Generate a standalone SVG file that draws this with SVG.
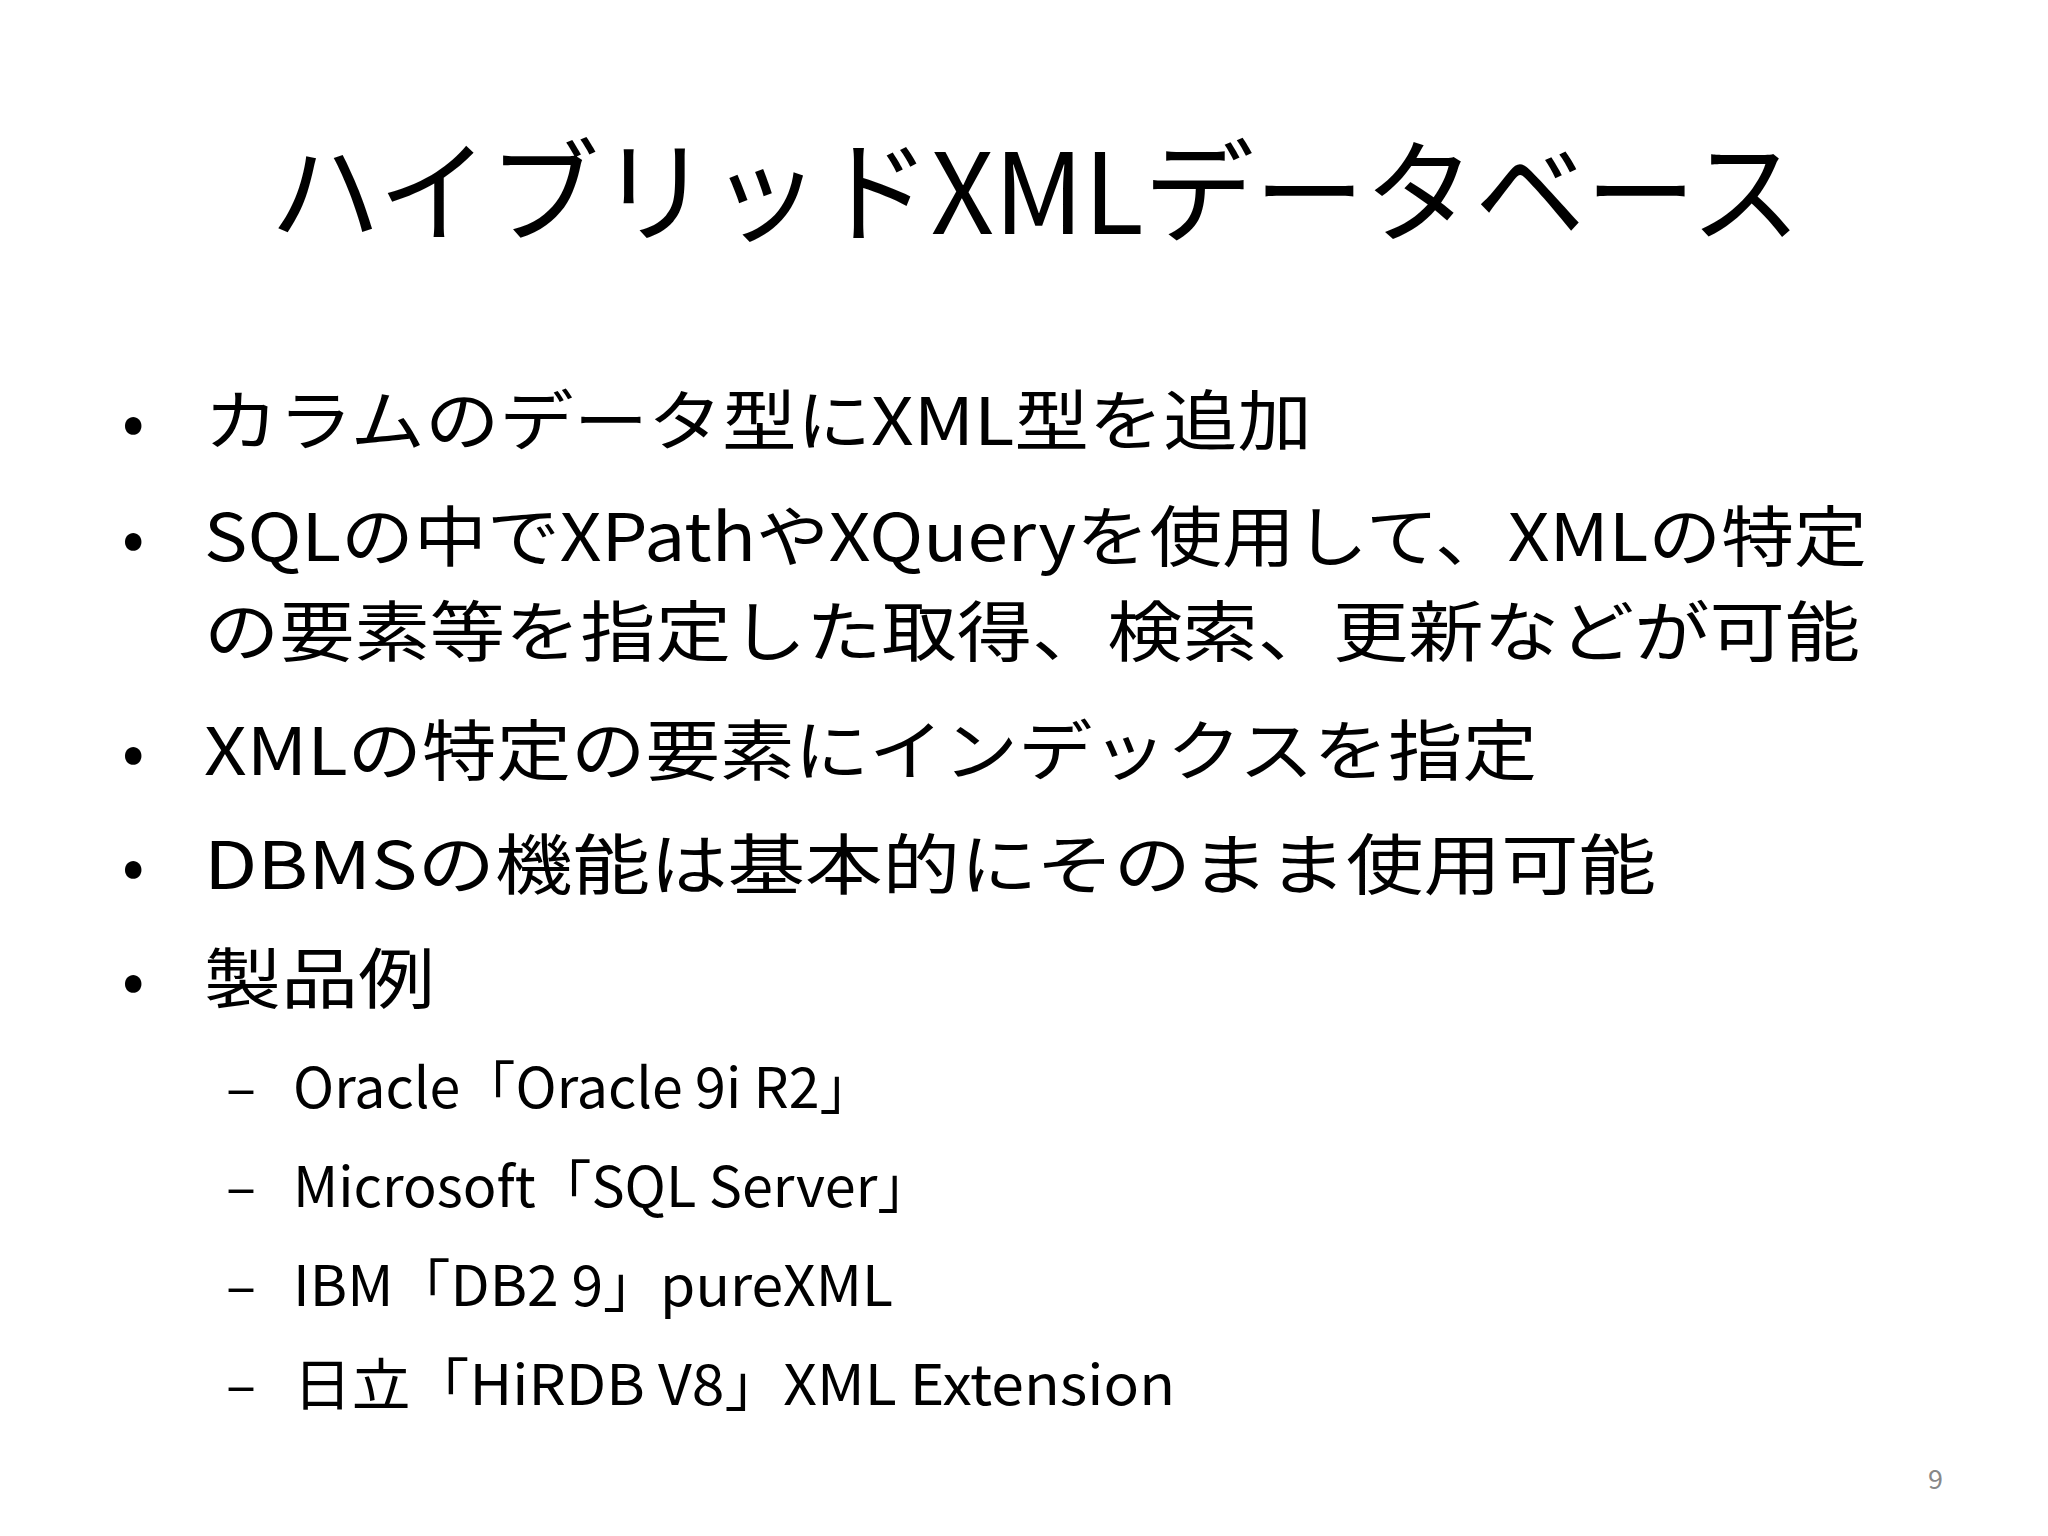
<svg xmlns="http://www.w3.org/2000/svg" width="2048" height="1536" viewBox="0 0 2048 1536">
<style>
text{font-family:"Noto Sans CJK JP","Noto Sans",sans-serif;fill:#000}
.t{font-size:112px}
.b{font-size:66px}
.s{font-size:56px}
</style>
<rect width="2048" height="1536" fill="#fff"/>
<g id="title"><text class="t" x="270" y="234" textLength="1531" lengthAdjust="spacingAndGlyphs">ハイブリッドXMLデータベース</text></g>
<g id="bullets">
<text class="b" x="122" y="445">•</text><text class="b" x="204" y="445" textLength="1108" lengthAdjust="spacingAndGlyphs">カラムのデータ型にXML型を追加</text>
<text class="b" x="122" y="561">•</text><text class="b" x="204" y="561" textLength="1663" lengthAdjust="spacingAndGlyphs">SQLの中でXPathやXQueryを使用して、XMLの特定</text>
<text class="b" x="204" y="656" textLength="1656" lengthAdjust="spacingAndGlyphs">の要素等を指定した取得、検索、更新などが可能</text>
<text class="b" x="122" y="775">•</text><text class="b" x="204" y="775" textLength="1333" lengthAdjust="spacingAndGlyphs">XMLの特定の要素にインデックスを指定</text>
<text class="b" x="122" y="889">•</text><text class="b" x="204" y="889" textLength="1452" lengthAdjust="spacingAndGlyphs">DBMSの機能は基本的にそのまま使用可能</text>
<text class="b" x="122" y="1003">•</text><text class="b" x="204" y="1003" textLength="231" lengthAdjust="spacingAndGlyphs">製品例</text>
<text class="s" x="226" y="1108">–</text><text class="s" x="293" y="1108" textLength="582" lengthAdjust="spacingAndGlyphs">Oracle「Oracle 9i R2」</text>
<text class="s" x="226" y="1207">–</text><text class="s" x="293" y="1207" textLength="640" lengthAdjust="spacingAndGlyphs">Microsoft「SQL Server」</text>
<text class="s" x="226" y="1306">–</text><text class="s" x="293" y="1306" textLength="600" lengthAdjust="spacingAndGlyphs">IBM「DB2 9」pureXML</text>
<text class="s" x="226" y="1405">–</text><text class="s" x="293" y="1405" textLength="882" lengthAdjust="spacingAndGlyphs">日立「HiRDB V8」XML Extension</text>
</g>
<g id="page"><text x="1928" y="1489" font-size="27" style="fill:#888">9</text></g>
</svg>
